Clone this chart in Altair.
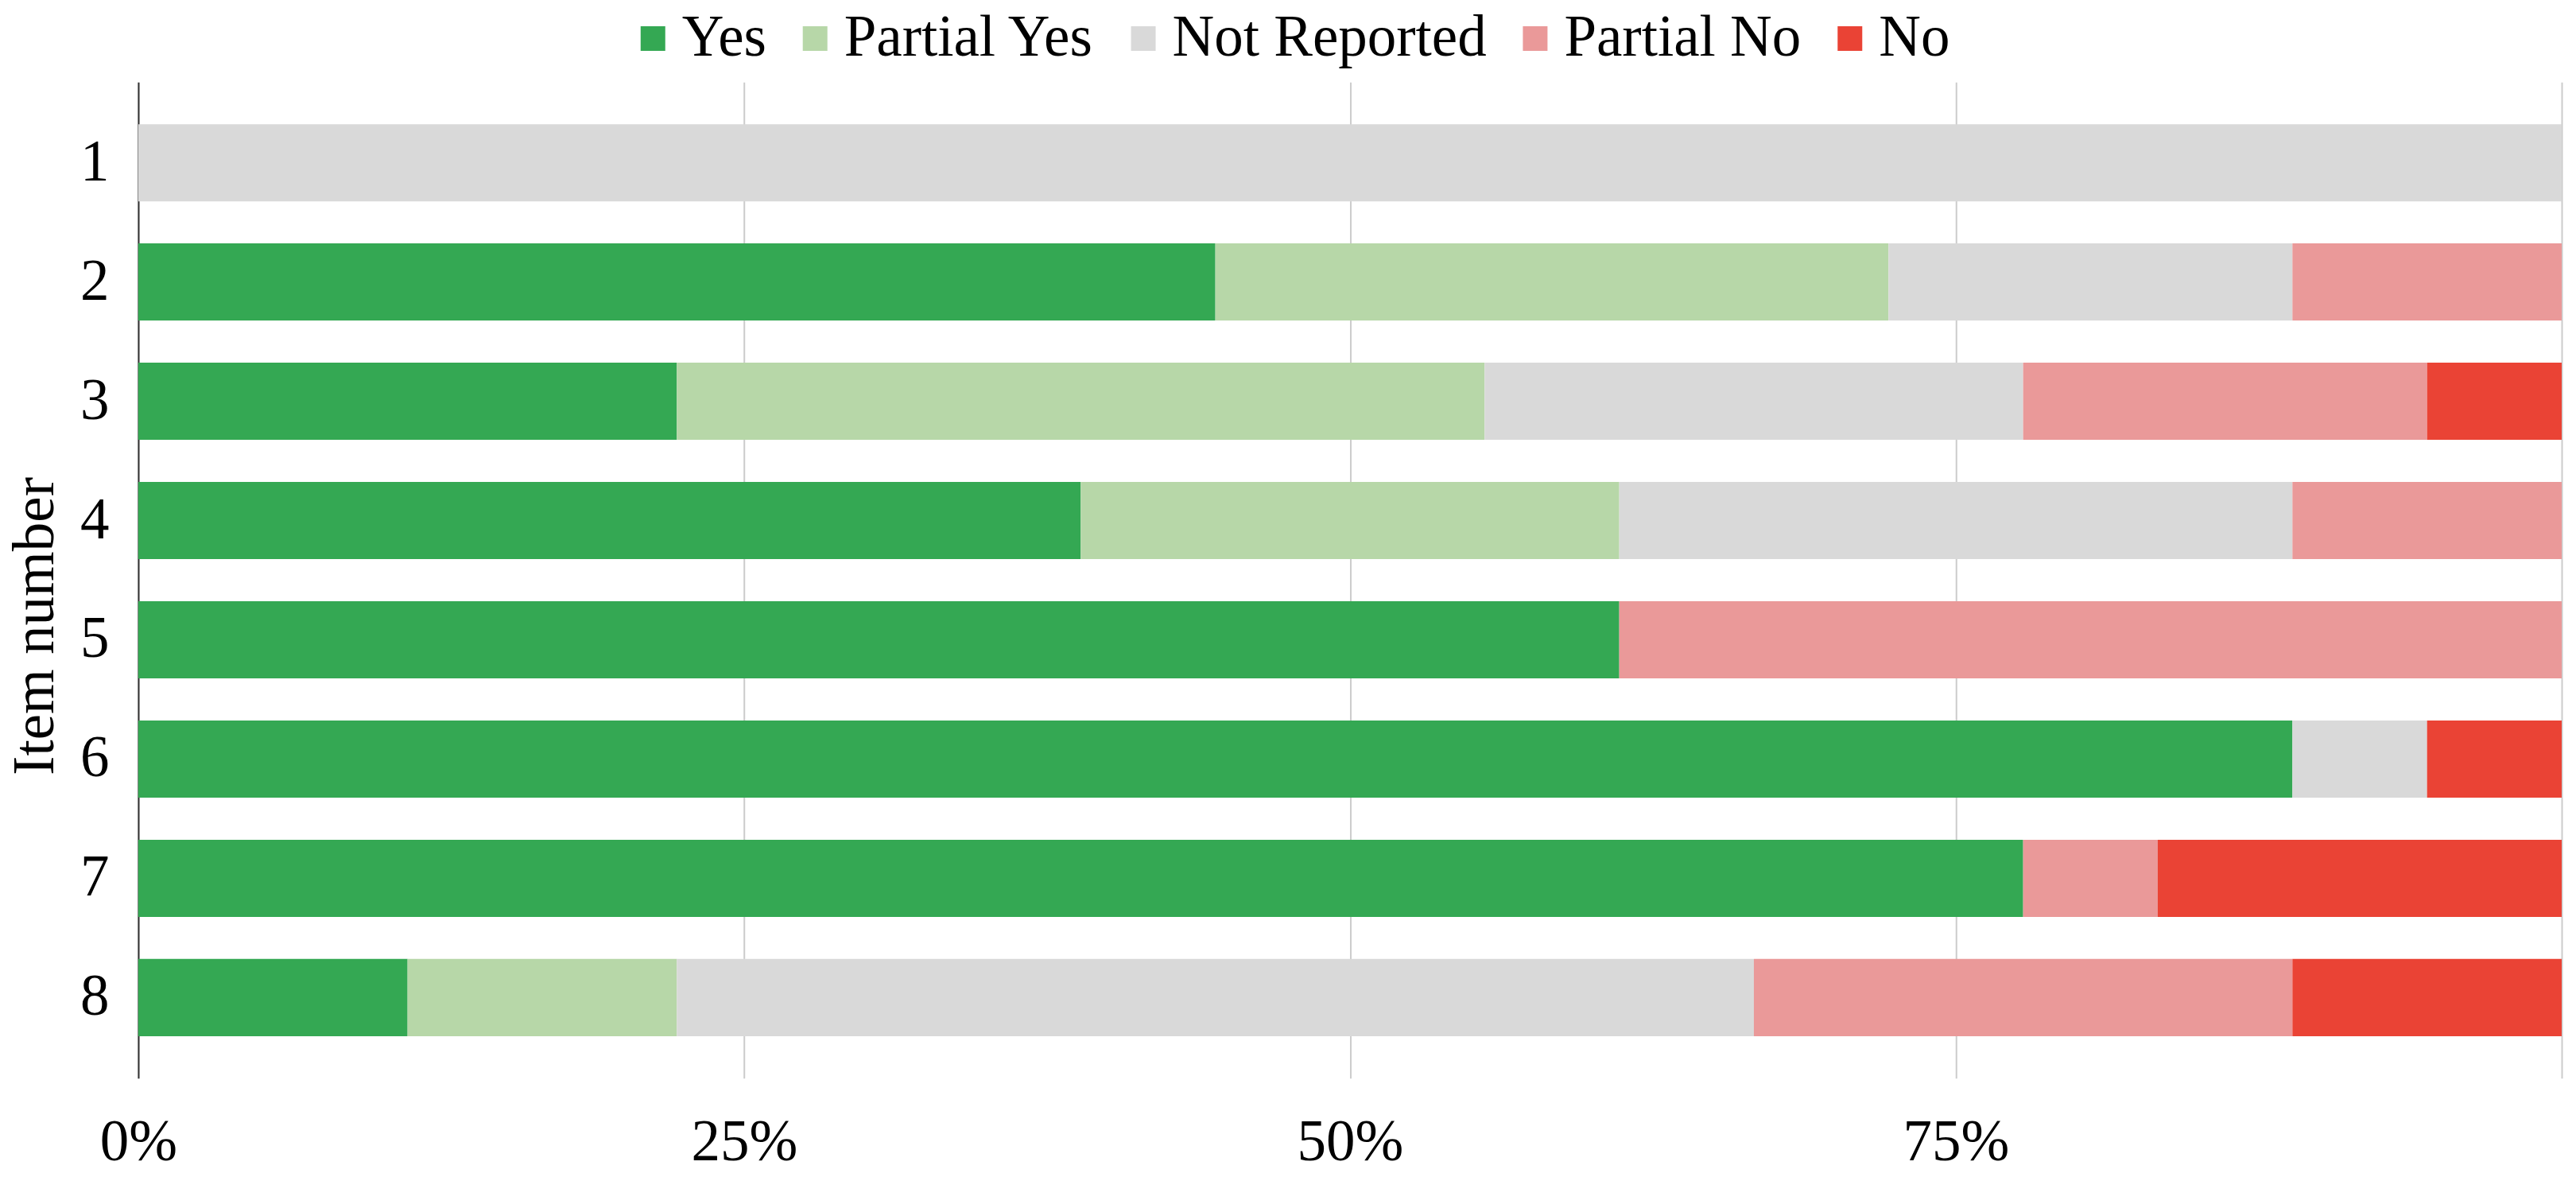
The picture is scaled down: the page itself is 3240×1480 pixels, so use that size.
import altair as alt
import pandas as pd

items = ["1", "2", "3", "4", "5", "6", "7", "8"]
categories = ["Yes", "Partial Yes", "Not Reported", "Partial No", "No"]
colors = ["#34A853", "#B7D7A8", "#D9D9D9", "#EA9999", "#EA4335"]

yes = [0, 8, 4, 7, 11, 16, 14, 2]
partial_yes = [0, 5, 6, 4, 0, 0, 0, 2]
not_reported = [18, 3, 4, 5, 0, 1, 0, 8]
partial_no = [0, 2, 3, 2, 7, 0, 1, 4]
no = [0, 0, 1, 0, 0, 1, 3, 2]

series = [yes, partial_yes, not_reported, partial_no, no]
rows = []
for ci, (cat, vals) in enumerate(zip(categories, series)):
    for item, v in zip(items, vals):
        if v > 0:
            rows.append({"item": item, "category": cat, "count": v, "order": ci})
df = pd.DataFrame(rows)

FONT = "Liberation Serif"
FS = 73

chart = alt.Chart(df).mark_bar().encode(
    y=alt.Y(
        "item:N",
        sort=items,
        scale=alt.Scale(paddingInner=0.353, paddingOuter=0.353),
        axis=alt.Axis(
            title="Item number",
            titleFont=FONT,
            titleFontSize=FS,
            titleFontWeight="normal",
            titleColor="#000000",
            titleAngle=270,
            titleX=-107,
            titleY=684,
            titleAlign="center",
            titleBaseline="alphabetic",
            labelFont=FONT,
            labelFontSize=FS,
            labelColor="#000000",
            labelPadding=37,
            ticks=False,
            domain=True,
            domainColor="#333333",
            domainWidth=2,
            grid=False,
        ),
    ),
    x=alt.X(
        "count:Q",
        stack="normalize",
        scale=alt.Scale(domain=[0, 1], nice=False),
        axis=alt.Axis(
            title=None,
            values=[0, 0.25, 0.5, 0.75, 1],
            format=".0%",
            labelExpr="datum.value >= 1 ? '' : datum.label",
            labelFlush=False,
            labelFont=FONT,
            labelFontSize=FS,
            labelColor="#000000",
            labelPadding=45,
            ticks=False,
            domain=False,
            grid=True,
            gridColor="#cccccc",
            gridWidth=2,
        ),
    ),
    color=alt.Color(
        "category:N",
        scale=alt.Scale(domain=categories, range=colors),
        legend=alt.Legend(
            title=None,
            orient="none",
            direction="horizontal",
            legendX=611,
            legendY=-91.5,
            symbolType="square",
            symbolSize=961,
            symbolStrokeWidth=0,
            symbolOpacity=1,
            labelFont=FONT,
            labelFontSize=FS,
            labelColor="#000000",
            labelOffset=0,
            labelLimit=2000,
            columnPadding=24,
            padding=0,
        ),
    ),
    order=alt.Order("order:Q"),
).properties(
    width=3049,
    height=1253,
    padding={"left": 166, "top": 95, "right": 10, "bottom": 160},
    autosize=alt.AutoSizeParams(type="none"),
).configure_view(stroke=None)

chart.save("out.html", embed_options={"renderer": "svg", "actions": False})
